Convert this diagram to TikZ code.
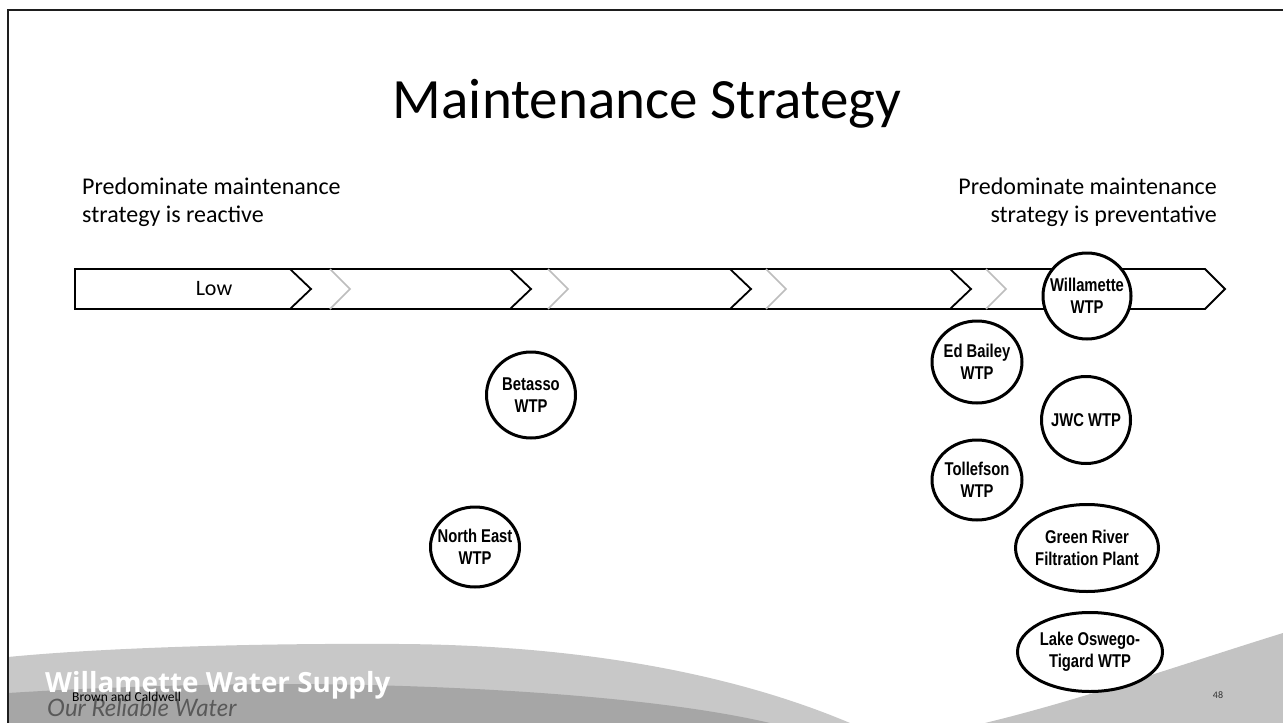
\documentclass[tikz,border=0pt]{standalone}
\usepackage{fontspec}
\setmainfont{Carlito}
\newfontfamily\circfont[FakeStretch=0.8]{Liberation Sans}
\newfontfamily\brandfont{Open Sans}
\newfontfamily\scriptfnt{Lato}
\usetikzlibrary{shapes.geometric}
\definecolor{lgray}{HTML}{C8C8C8}
\definecolor{mgray}{HTML}{A6A6A6}
\definecolor{rgray}{HTML}{C3C3C3}
\definecolor{chevgray}{HTML}{BDBDBD}
\definecolor{framec}{HTML}{1E1E1E}
\begin{document}
\begin{tikzpicture}[x=1pt,y=-1pt,
  plant/.style={draw=black, line width=3pt, ellipse, fill=white, inner sep=0pt},
  ptext/.style={font=\circfont\bfseries\fontsize{18.5}{22}\selectfont, align=center, inner sep=0pt},
  side/.style={font=\fontsize{24}{28}\selectfont, inner sep=0pt},
  barline/.style={line width=1.8pt, line join=miter},
  chevblack/.style={line width=1.8pt},
  chevlight/.style={line width=1.5pt, draw=chevgray}]
\useasboundingbox (0,0) rectangle (1283,723);
\fill[white] (0,0) rectangle (1283,723);
% bottom wave
\fill[lgray] (8,657) .. controls (100,648) and (250,643) .. (400,644)
  .. controls (560,645) and (720,668) .. (850,723) -- (8,723) -- cycle;
\fill[mgray] (8,693) .. controls (120,686) and (220,684) .. (300,684)
  .. controls (450,685) and (650,695) .. (770,723) -- (8,723) -- cycle;
\fill[rgray] (985,723) .. controls (1080,700) and (1180,665) .. (1283,633) -- (1283,723) -- cycle;
% frame
\draw[framec, line width=2.8pt] (8,723) -- (8,10) -- (1283,10);
% title and side texts
\node[font=\fontsize{57}{60}\selectfont, anchor=base, inner sep=0pt] (title) at (647,118) {Maintenance Strategy};
\node[side, anchor=base west] (l1) at (82,194) {Predominate maintenance};
\node[side, anchor=base west] (l2) at (82,222) {strategy is reactive};
\node[side, anchor=base east] (r1) at (1217,194) {Predominate maintenance};
\node[side, anchor=base east] (r2) at (1217,222) {strategy is preventative};
% chevron bar
\draw[barline] (75,269) -- (1205,269) -- (1225,289) -- (1205,309) -- (75,309) -- cycle;
\foreach \xb/\xg in {290/330, 510/548, 730/766, 950/986}{
  \draw[chevblack] (\xb,269) -- (\xb+21,289) -- (\xb,309);
  \draw[chevlight] (\xg,269) -- (\xg+20,289) -- (\xg,309);
}
\node[font=\fontsize{22}{24}\selectfont] (low) at (214,289) {Low};
% plants
\node[plant, minimum width=88, minimum height=86] (wil) at (1087,296) {};
\node[ptext] (wilt) at (wil) {Willamette\\WTP};
\node[plant, minimum width=89, minimum height=86] (bet) at (531,395) {};
\node[ptext] (bett) at (bet) {Betasso\\WTP};
\node[plant, minimum width=89, minimum height=80] (ne) at (475,547) {};
\node[ptext] (net) at (ne) {North East\\WTP};
\node[plant, minimum width=90, minimum height=82] (ed) at (977,362) {};
\node[ptext] (edt) at (ed) {Ed Bailey\\WTP};
\node[plant, minimum width=89, minimum height=87] (jwc) at (1086,420) {};
\node[ptext] (jwct) at (jwc) {JWC WTP};
\node[plant, minimum width=90, minimum height=80] (tol) at (977,480) {};
\node[ptext] (tolt) at (tol) {Tollefson\\WTP};
\node[plant, minimum width=143, minimum height=87] (gr) at (1087,548) {};
\node[ptext] (grt) at (gr) {Green River\\Filtration Plant};
\node[plant, minimum width=145, minimum height=79] (lo) at (1090,652) {};
\node[ptext] (lot) at (lo) {Lake Oswego-\\Tigard WTP};
% footer texts
\node[anchor=base west, inner sep=0pt, text=white, font=\brandfont\bfseries\fontsize{27.8}{28}\selectfont] (wws) at (45,692) {Willamette Water Supply};
\node[anchor=base west, inner sep=0pt, text=black!65, font=\scriptfnt\itshape\fontsize{24}{24}\selectfont] (orw) at (47,716) {Our Reliable Water};
\node[anchor=base west, inner sep=0pt, font=\fontsize{13.5}{14}\selectfont] (bc) at (72,701) {Brown and Caldwell};
\node[inner sep=0pt, text=black!80, font=\fontsize{10}{10}\selectfont] (pg) at (1218,695) {48};
\end{tikzpicture}
\end{document}
